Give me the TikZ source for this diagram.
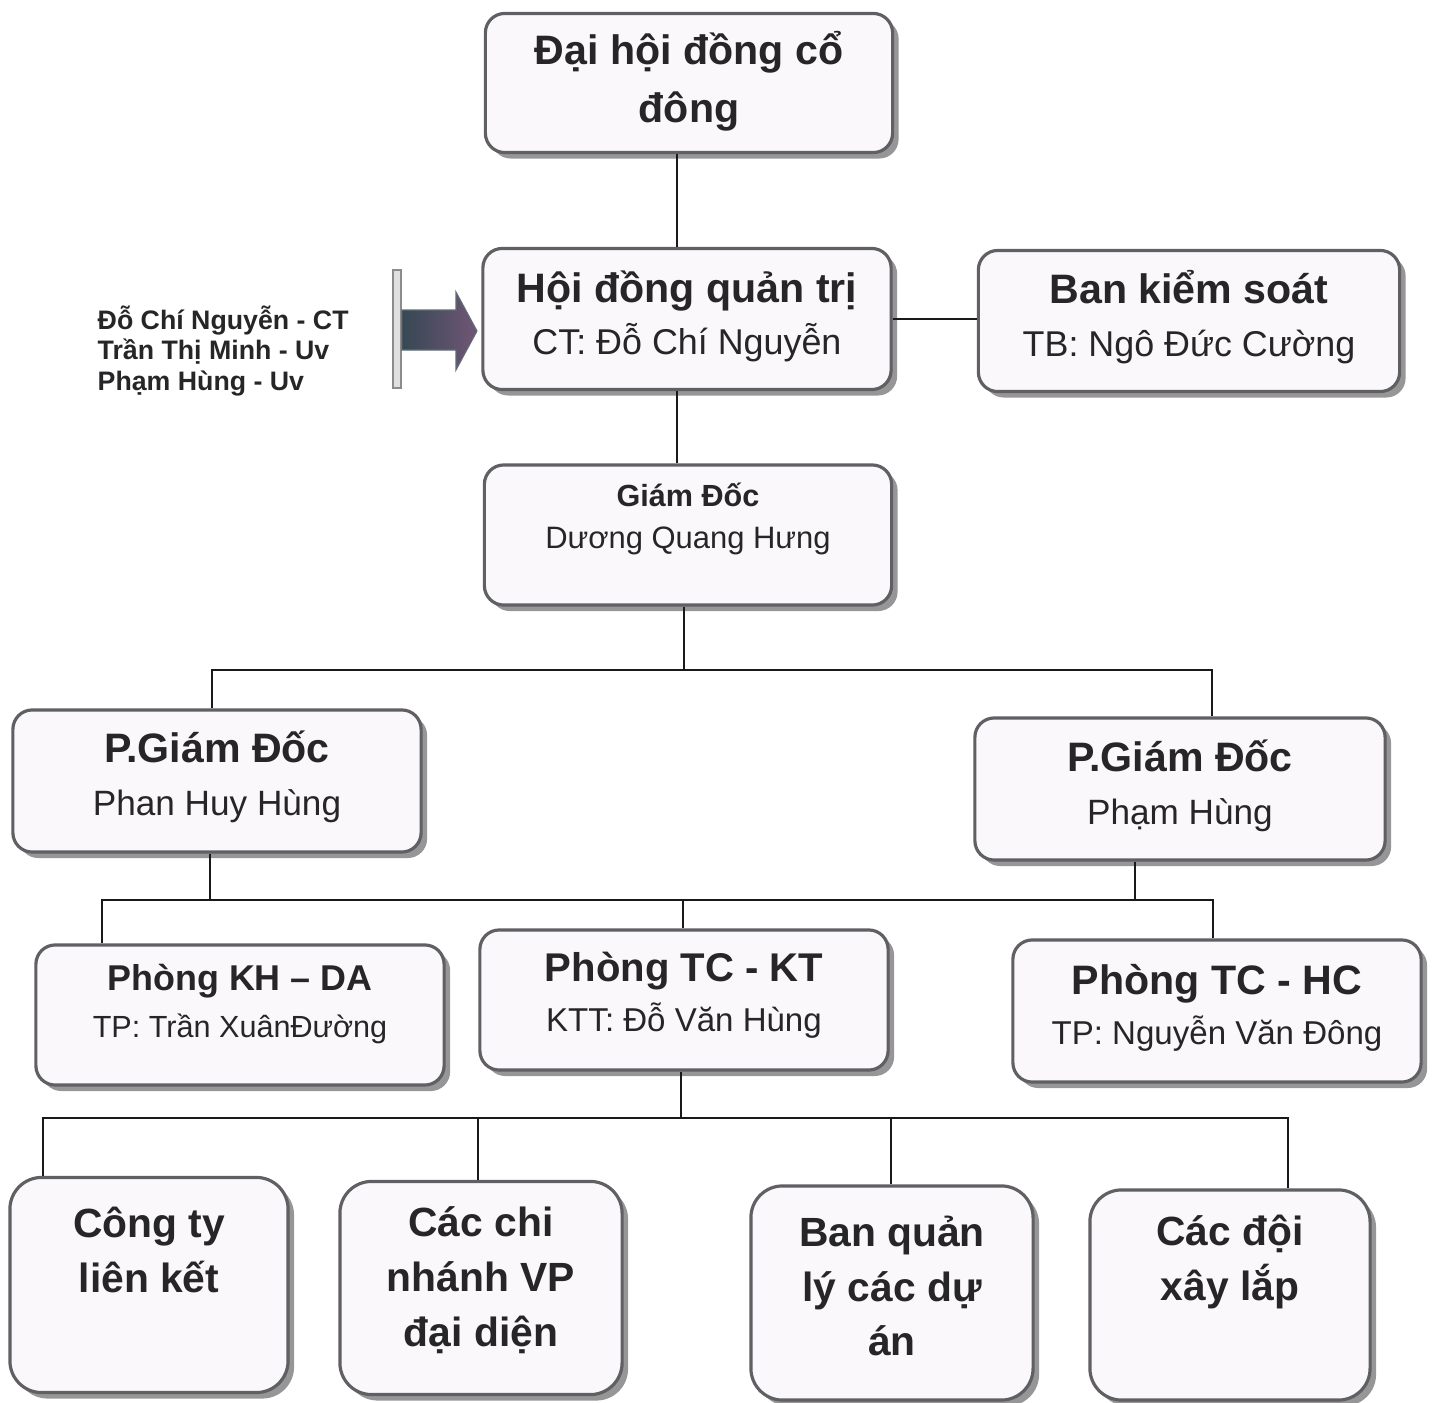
\documentclass[tikz,border=0pt]{standalone}
\usepackage{fontspec}
\setmainfont{Liberation Sans}
\usetikzlibrary{shadows}
\definecolor{boxfill}{RGB}{251,248,251}
\definecolor{boxline}{RGB}{95,95,100}
\definecolor{inktext}{RGB}{38,38,40}
\definecolor{arrowdark}{RGB}{55,72,84}
\definecolor{arrowlight}{RGB}{112,86,118}
\newcommand{\headline}[2][11.7]{{\fontsize{#1}{#1}\selectfont\bfseries #2}}

\begin{document}
\begin{tikzpicture}[
    x=0.01cm, y=-0.01cm,
    orgbox/.style={draw=boxline, line width=0.9pt, fill=boxfill, rounded corners=5.5pt, inner sep=0pt,
      drop shadow={shadow xshift=0.06cm, shadow yshift=-0.06cm, fill=black!55, opacity=0.75}},
    unitbox/.style={orgbox, rounded corners=9pt},
    txt/.style 2 args={align=center, text=inktext, inner sep=0pt, font=\fontsize{#1}{#2}\selectfont},
    link/.style={draw=black!90, line width=0.85pt}
]
\useasboundingbox (0,0) rectangle (1432,1403);
% boxes
\node[orgbox, minimum width=4.07cm, minimum height=1.39cm] (dhcd) at (689,83) {};
\node[orgbox, minimum width=4.08cm, minimum height=1.41cm] (hdqt) at (687,319) {};
\node[orgbox, minimum width=4.21cm, minimum height=1.41cm] (bks) at (1189,321) {};
\node[orgbox, minimum width=4.07cm, minimum height=1.40cm] (gd) at (688,535) {};
\node[orgbox, minimum width=4.08cm, minimum height=1.42cm] (pgd1) at (217,781) {};
\node[orgbox, minimum width=4.10cm, minimum height=1.42cm] (pgd2) at (1180,789) {};
\node[orgbox, minimum width=4.08cm, minimum height=1.40cm] (khda) at (240,1015) {};
\node[orgbox, minimum width=4.08cm, minimum height=1.40cm] (tckt) at (684,1000) {};
\node[orgbox, minimum width=4.08cm, minimum height=1.42cm] (tchc) at (1217,1011) {};
\node[unitbox, minimum width=2.78cm, minimum height=2.15cm] (ctlk) at (149,1285) {};
\node[unitbox, minimum width=2.82cm, minimum height=2.13cm] (ccn) at (481,1288) {};
\node[unitbox, minimum width=2.82cm, minimum height=2.14cm] (bql) at (892,1293) {};
\node[unitbox, minimum width=2.80cm, minimum height=2.10cm] (cdxl) at (1230,1295) {};

% texts
\node[txt={11.7}{16.5}, font=\fontsize{11.7}{16.5}\selectfont\bfseries] (dhcd-t) at (689,81) {Đại hội đồng cổ\\đông};
\node[txt={10.2}{14.8}] (hdqt-t) at (687,316) {\headline{Hội đồng quản trị}\\CT: Đỗ Chí Nguyễn};
\node[txt={10.2}{15}] (bks-t) at (1189,317) {\headline{Ban kiểm soát}\\TB: Ngô Đức Cường};
\node[txt={8.8}{12}] (gd-t) at (688,519) {\headline[8.7]{Giám Đốc}\\Dương Quang Hưng};
\node[txt={10}{15}] (pgd1-t) at (217,777) {\headline{P.Giám Đốc}\\Phan Huy Hùng};
\node[txt={10}{15}] (pgd2-t) at (1180,786) {\headline{P.Giám Đốc}\\Phạm Hùng};
\node[txt={8.7}{13.4}] (khda-t) at (240,1004) {\headline[10.2]{Phòng KH – DA}\\TP: Trần XuânĐường};
\node[txt={9.4}{14.2}] (tckt-t) at (684,995) {\headline[11.4]{Phòng TC - KT}\\KTT: Đỗ Văn Hùng};
\node[txt={9.4}{14.2}] (tchc-t) at (1217,1008) {\headline{Phòng TC - HC}\\TP: Nguyễn Văn Đông};
\node[txt={11.6}{15.6}, font=\fontsize{11.6}{15.6}\selectfont\bfseries] (ctlk-t) at (149,1250) {Công ty\\liên kết};
\node[txt={11.6}{15.6}, font=\fontsize{11.6}{15.6}\selectfont\bfseries] (ccn-t) at (481,1280) {Các chi\\nhánh VP\\đại diện};
\node[txt={11.6}{15.6}, font=\fontsize{11.6}{15.6}\selectfont\bfseries] (bql-t) at (892,1286) {Ban quản\\lý các dự\\án};
\node[txt={11.6}{15.6}, font=\fontsize{11.6}{15.6}\selectfont\bfseries] (cdxl-t) at (1230,1262) {Các đội\\xây lắp};

% board members and block arrow
\node[txt={7.6}{8.6}, font=\fontsize{7.6}{8.6}\selectfont\bfseries, align=left, anchor=west] (members) at (97,351) {Đỗ Chí Nguyễn - CT\\Trần Thị Minh - Uv\\Phạm Hùng - Uv};
\node[draw=black!45, fill=black!12, line width=0.5pt, inner sep=0pt, minimum width=0.08cm, minimum height=1.18cm] (bar) at (397,329) {};
\path[left color=arrowdark, right color=arrowlight, draw=arrowdark!80, line width=0.3pt]
  (bar.east |- 0,310) -- (456,310) -- (456,292) -- (477,331) -- (456,370) -- (456,350) -- (bar.east |- 0,350) -- cycle;

% connectors
\coordinate (trunk) at (677,0);
\draw[link] (dhcd.south -| trunk) -- (hdqt.north -| trunk);
\draw[link] (hdqt.south -| trunk) -- (gd.north -| trunk);
\draw[link] (hdqt.east) -- (hdqt.east -| bks.west);

\coordinate (busA) at (684,670);
\coordinate (dropA1) at (212,670);
\coordinate (dropA2) at (1212,670);
\draw[link] (gd.south -| busA) -- (busA);
\draw[link] (pgd1.north -| dropA1) -- (dropA1) -- (dropA2) -- (pgd2.north -| dropA2);

\coordinate (joinB1) at (210,900);
\coordinate (joinB2) at (1135,900);
\coordinate (dropB1) at (102,900);
\coordinate (dropB2) at (683,900);
\coordinate (dropB3) at (1213,900);
\draw[link] (pgd1.south -| joinB1) -- (joinB1);
\draw[link] (pgd2.south -| joinB2) -- (joinB2);
\draw[link] (khda.north -| dropB1) -- (dropB1) -- (dropB3) -- (tchc.north -| dropB3);
\draw[link] (dropB2) -- (tckt.north -| dropB2);

\coordinate (busC) at (681,1118);
\coordinate (dropC1) at (43,1118);
\coordinate (dropC2) at (478,1118);
\coordinate (dropC3) at (891,1118);
\coordinate (dropC4) at (1288,1118);
\draw[link] (tckt.south -| busC) -- (busC);
\draw[link] (ctlk.north -| dropC1) -- (dropC1) -- (dropC4) -- (cdxl.north -| dropC4);
\draw[link] (dropC2) -- (ccn.north -| dropC2);
\draw[link] (dropC3) -- (bql.north -| dropC3);
\end{tikzpicture}
\end{document}
